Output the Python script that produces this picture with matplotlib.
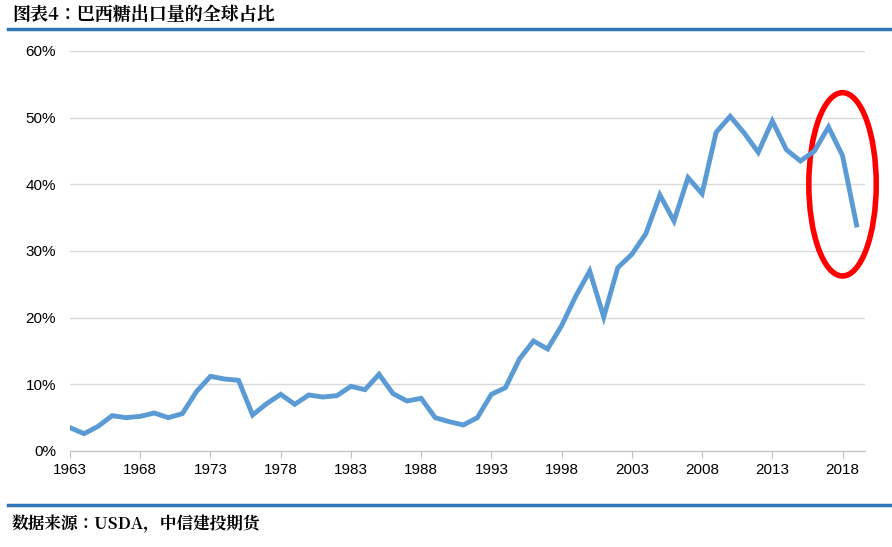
import matplotlib
matplotlib.use("Agg")
import matplotlib.pyplot as plt
from matplotlib.patches import Ellipse
from matplotlib.lines import Line2D
from matplotlib import font_manager as fm

years = list(range(1963, 2020))
share = [3.5, 2.6, 3.7, 5.3, 5.0, 5.2, 5.7, 5.0, 5.6, 8.9, 11.2, 10.8, 10.6, 5.4,
         7.1, 8.5, 7.0, 8.4, 8.1, 8.3, 9.7, 9.2, 11.5, 8.6, 7.5, 7.9, 5.0, 4.4,
         3.9, 5.0, 8.5, 9.5, 13.8, 16.5, 15.3, 18.8, 23.2, 27.0, 20.1, 27.5, 29.5,
         32.6, 38.4, 34.5, 41.0, 38.6, 47.8, 50.2, 47.7, 44.8, 49.5, 45.2, 43.5,
         45.0, 48.6, 44.3, 33.9]
xticks = list(range(1963, 2019, 5))
yticks = [0, 10, 20, 30, 40, 50, 60]

cjk_path = None
for f in fm.findSystemFonts():
    if "CJK" in f and ("Bold" in f or cjk_path is None):
        cjk_path = f
        if "Bold" in f:
            break
cjk = fm.FontProperties(fname=cjk_path) if cjk_path else fm.FontProperties(family="Noto Sans CJK SC")

fig = plt.figure(figsize=(8.92, 5.47), dpi=100)
W, H = 892, 547
ax = fig.add_axes([70/W, 1-451/H, (865-70)/W, 400/H])
ax.plot(years, share, color="#5B9BD5", lw=3.5, solid_joinstyle="miter")
ax.set_xlim(1963, 2019.6)
ax.set_ylim(0, 60)
ax.set_yticks(yticks)
ax.set_yticklabels([f"{v}%" for v in yticks], fontsize=11, family="Liberation Sans")
ax.set_xticks(xticks)
ax.set_xticklabels([str(v) for v in xticks], fontsize=11, family="Liberation Sans")
ax.grid(axis="y", color="#D9D9D9", lw=1)
ax.set_axisbelow(True)
for s in ["top", "right", "left"]:
    ax.spines[s].set_visible(False)
ax.spines["bottom"].set_color("#BFBFBF")
ax.tick_params(axis="y", length=0, pad=10)
ax.tick_params(axis="x", length=5, color="#BFBFBF", direction="out")
ax.add_patch(Ellipse((2018.0, 40.0), 4.8, 27.5, fill=False, ec="#FF0000", lw=4, clip_on=False))

t1 = fm.FontProperties(fname=cjk_path, size=13, weight="bold") if cjk_path else None
fig.text(12/W, 1-15/H, "图表4：巴西糖出口量的全球占比", fontproperties=t1, va="center")
fig.add_artist(Line2D([8/W, 890/W], [1-29/H, 1-29/H], color="#2E75B6", lw=2.5))
fig.add_artist(Line2D([8/W, 890/W], [1-505/H, 1-505/H], color="#2E75B6", lw=2.5))
t2 = fm.FontProperties(fname=cjk_path, size=12, style="italic") if cjk_path else None
tx = fig.text(12/W, 1-524/H, "数据来源：USDA，中信建投期货", fontproperties=t2, va="center")
tx.set_transform(tx.get_transform() + matplotlib.transforms.Affine2D().skew_deg(0, 0))
fig.savefig("out.png", dpi=100)
